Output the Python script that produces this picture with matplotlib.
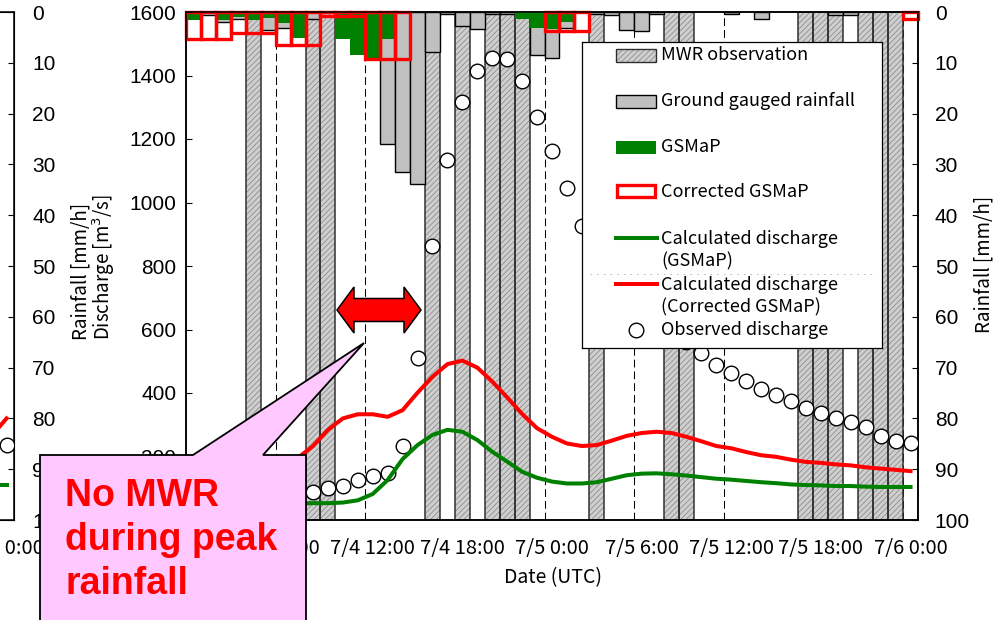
import matplotlib.pyplot as plt
from matplotlib.patches import Polygon, Rectangle
from matplotlib.lines import Line2D

plt.rcParams['font.family'] = ['Liberation Sans', 'DejaVu Sans']
plt.rcParams['hatch.linewidth'] = 0.6
JP = ['Noto Sans CJK JP', 'DejaVu Sans']

# ----------------------------------------------------------
# DATA (hourly, 7/4 0:00 -> 7/6 0:00)
# ----------------------------------------------------------
hours = list(range(49))
tick_hours = [0, 6, 12, 18, 24, 30, 36, 42, 48]
tick_labels = ["7/4 0:00", "7/4 6:00", "7/4 12:00", "7/4 18:00", "7/5 0:00",
               "7/5 6:00", "7/5 12:00", "7/5 18:00", "7/6 0:00"]

# hours with a microwave radiometer overpass
mwr_hours = [4, 8, 9, 16, 18, 20, 21, 22, 27, 32, 33, 41, 42, 43, 45, 46, 47]

# rainfall [mm/h]
ground = [0, 0.6, 2.0, 1.4, 0, 3.5, 3.1, 0, 1.4, 0,
          0, 0, 0, 26.0, 31.5, 33.9, 7.8, 0.3, 2.8, 3.3,
          0.3, 0.3, 0, 8.5, 9.1, 3.2, 0, 0.3, 0.5, 3.5,
          3.8, 0.3, 0, 0, 0, 0, 0.4, 0, 1.4, 0,
          0, 0, 0, 0.5, 0.5, 0, 0, 0, 0]
gsmap = [1.6, 0, 1.6, 0.9, 1.6, 1.1, 2.1, 5.1, 0, 0,
         5.3, 8.5, 9.3, 5.4, 0, 0, 0, 0, 0, 0,
         0, 0, 1.4, 3.1, 3.4, 2.0, 0, 0, 0, 0,
         0, 0, 0, 0, 0, 0, 0, 0, 0, 0,
         0, 0, 0, 0, 0, 0, 0, 0, 0]
gsmap_corr = [5.25, 5.25, 5.25, 4.2, 4.2, 4.2, 6.4, 6.4, 6.4, 0.8,
              0.8, 0.8, 9.2, 9.2, 9.2, 0, 0, 0, 0, 0,
              0, 0, 0, 0, 3.75, 3.75, 3.75, 0, 0, 0,
              0, 0, 0, 0, 0, 0, 0, 0, 0, 0,
              0, 0, 0, 0, 0, 0, 0, 0, 1.4]

# discharge [m3/s]
q_gsmap = [48, 48, 48, 48, 49, 50, 51, 52, 53, 53,
           55, 62, 82, 126, 192, 236, 268, 284, 278, 252,
           215, 184, 152, 133, 121, 115, 115, 119, 130, 141,
           146, 147, 144, 140, 135, 130, 127, 123, 119, 116,
           112, 110, 109, 107, 107, 105, 104, 104, 104]
q_corr = [200, 196, 193, 191, 190, 191, 193, 196, 233, 284,
          320, 333, 333, 325, 346, 401, 451, 491, 502, 480,
          436, 386, 334, 289, 262, 241, 233, 236, 250, 265,
          274, 278, 274, 262, 248, 233, 226, 214, 204, 199,
          190, 183, 180, 175, 172, 166, 162, 158, 154]
q_obs = [82, 82, 82, 82, 83, 84, 85, 87, 89, 100,
         108, 126, 140, 149, 233, 511, 863, 1134, 1315, 1414,
         1454, 1451, 1384, 1270, 1162, 1045, 927, 860, 800, 745,
         695, 645, 600, 560, 525, 489, 464, 438, 413, 394,
         375, 354, 338, 320, 308, 294, 266, 249, 243]

# fragment of the neighbouring panel at the left edge
left_hours = [47, 48]
left_q_corr = [265, 320]
left_q_gsmap = [110, 110]
left_q_obs = [None, 236]

# ----------------------------------------------------------
# FIGURE
# ----------------------------------------------------------
W, H = 999, 620
fig = plt.figure(figsize=(W / 100, H / 100), dpi=100)


def fx(px):
    return px / W


def fy(py):
    return 1 - py / H


ax = fig.add_axes([fx(186), fy(520), fx(918) - fx(186), fy(12) - fy(520)])
axq = ax.twinx()

# dashed separators every 6 hours
for h in hours[6::6]:
    ax.axvline(h - 0.5, color="black", lw=0.75, ls=(0, (7.5, 3.8)), zorder=0.5)

# MWR observation (hatched, full height)
ax.bar(mwr_hours, [100] * len(mwr_hours), width=1, color="#cfcfcf",
       edgecolor="#8e8e8e", hatch="//////", lw=0, zorder=2)
ax.bar(mwr_hours, [100] * len(mwr_hours), width=1, fill=False,
       edgecolor="#303030", lw=1.1, zorder=2.1)

# ground gauged rainfall
g_h = [h for h, v in zip(hours, ground) if v > 0]
g_v = [v for v in ground if v > 0]
ax.bar(g_h, g_v, width=1, color="#c0c0c0", edgecolor="black", lw=1.0, zorder=3)

# GSMaP
s_h = [h for h, v in zip(hours, gsmap) if v > 0]
s_v = [v for v in gsmap if v > 0]
ax.bar(s_h, s_v, width=1, color="#008000", lw=0, zorder=4)

# corrected GSMaP
c_h = [h for h, v in zip(hours, gsmap_corr) if v > 0]
c_v = [v for v in gsmap_corr if v > 0]
ax.bar(c_h, c_v, width=1, fill=False, edgecolor="#ff0000", lw=2.4,
       zorder=5, clip_on=False)

ax.set_ylim(100, 0)
ax.set_xlim(-0.5, 48.5)
ax.yaxis.tick_right()
ax.set_yticks(range(0, 101, 10))
ax.tick_params(axis="y", direction="in", length=4.5, width=0.8, pad=12,
               labelsize=15)
ax.set_xticks(tick_hours)
ax.set_xticklabels(tick_labels, fontfamily=JP, fontsize=14.5)
ax.tick_params(axis="x", length=0, pad=13)
for s in ax.spines.values():
    s.set_linewidth(1.1)

# discharge
axq.plot(hours, q_obs, "o", mfc="white", mec="black", ms=10.5, mew=1.0,
         zorder=3)
axq.plot(hours, q_gsmap, color="#008000", lw=2.9, zorder=4)
axq.plot(hours, q_corr, color="#ff0000", lw=2.9, zorder=4)
axq.set_ylim(0, 1600)
axq.yaxis.tick_left()
axq.set_yticks(range(0, 1601, 200))
axq.tick_params(axis="y", direction="in", length=4.5, width=0.8, pad=7,
                labelsize=15)
for s in axq.spines.values():
    s.set_linewidth(1.1)

# axis titles
fig.text(fx(81), fy(340), "Rainfall [mm/h]", rotation=90, ha="center",
         va="bottom", fontsize=13.5, family=JP)
fig.text(fx(104), fy(340), "Discharge [m$^{3}$/s]", rotation=90, ha="center",
         va="bottom", fontsize=13.5, family=JP)
fig.text(fx(984), fy(333), "Rainfall [mm/h]", rotation=90, ha="center",
         va="bottom", fontsize=13.5, family=JP)
fig.text(fx(553), fy(578), "Date (UTC)", ha="center", va="center",
         fontsize=14, family=JP)

# ----------------------------------------------------------
# neighbouring panel fragment
# ----------------------------------------------------------
axl = fig.add_axes([fx(14 - 732), fy(520), fx(732), fy(12) - fy(520)])
axl.set_xlim(-0.5, 48.5)
axl.set_ylim(100, 0)
axlq = axl.twinx()
axlq.set_ylim(0, 1600)
axlq.set_yticks([])
axlq.plot(left_hours, left_q_corr, color="#ff0000", lw=2.9)
axlq.plot(left_hours, left_q_gsmap, color="#008000", lw=2.9)
axlq.plot(left_hours, left_q_obs, "o", mfc="white", mec="black", ms=10.5,
          mew=1.0)
axl.yaxis.tick_right()
axl.set_yticks(range(0, 101, 10))
axl.tick_params(axis="y", direction="in", length=4.5, width=0.8, pad=13,
                labelsize=15)
axl.set_xticks([48])
axl.set_xticklabels(["7/6 0:00"], fontfamily=JP, fontsize=14.5)
axl.tick_params(axis="x", length=0, pad=13)
for s in axl.spines.values():
    s.set_linewidth(1.1)

# ----------------------------------------------------------
# legend (drawn on its own axes, in figure pixels)
# ----------------------------------------------------------
lax = fig.add_axes([fx(582), fy(348), fx(882) - fx(582), fy(42) - fy(348)],
                   zorder=5)
lax.set_xlim(582, 882)
lax.set_ylim(348, 42)
lax.set_xticks([])
lax.set_yticks([])
for s in lax.spines.values():
    s.set_linewidth(0.9)

lax.add_patch(Rectangle((616, 49), 40, 13, facecolor="#cfcfcf",
                        edgecolor="#8e8e8e", hatch="//////", lw=0))
lax.add_patch(Rectangle((616, 49), 40, 13, fill=False, edgecolor="#303030",
                        lw=1.0))
lax.add_patch(Rectangle((616, 95), 40, 13, facecolor="#c0c0c0",
                        edgecolor="black", lw=1.0))
lax.add_patch(Rectangle((616, 141), 40, 13, facecolor="#008000", lw=0))
lax.add_patch(Rectangle((617, 185), 38, 12, facecolor="white",
                        edgecolor="#ff0000", lw=2.4))
lax.add_line(Line2D([616, 657], [238, 238], color="#008000", lw=2.9))
lax.add_line(Line2D([616, 657], [284, 284], color="#ff0000", lw=2.9))
lax.add_line(Line2D([636], [330], marker="o", mfc="white", mec="black",
                    ms=10.5, mew=1.0))
lax.add_line(Line2D([590, 872], [274, 274], color="#b0b0b0", lw=0.6,
                    ls=(0, (2, 6))))

legend_text = [
    (55, "MWR observation"),
    (101, "Ground gauged rainfall"),
    (147, "GSMaP"),
    (192, "Corrected GSMaP"),
    (250, "Calculated discharge\n(GSMaP)"),
    (296, "Calculated discharge\n(Corrected GSMaP)"),
    (330, "Observed discharge"),
]
for y, t in legend_text:
    lax.text(661, y, t, ha="left", va="center", fontsize=13, family=JP,
             linespacing=1.3)

# ----------------------------------------------------------
# annotations: double arrow and callout
# ----------------------------------------------------------
arrow_px = [(337, 310), (354, 287), (354, 298.5), (404, 298.5), (404, 287),
            (421, 310), (404, 333), (404, 321.5), (354, 321.5), (354, 333)]
fig.add_artist(Polygon([(fx(x), fy(y)) for x, y in arrow_px], closed=True,
                       transform=fig.transFigure, facecolor="#ff0000",
                       edgecolor="black", lw=1.1, zorder=8))

callout_px = [(40, 455), (193, 455), (364, 343), (263, 455), (306, 455),
              (306, 625), (40, 625)]
fig.add_artist(Polygon([(fx(x), fy(y)) for x, y in callout_px], closed=True,
                       transform=fig.transFigure, facecolor="#ffc8ff",
                       edgecolor="black", lw=1.3, zorder=10))
fig.text(fx(65), fy(540), "No MWR\nduring peak\nrainfall", ha="left",
         va="center", color="#ff0000", fontsize=27, fontweight="bold",
         linespacing=1.27, zorder=11)

fig.savefig("out.png", dpi=100)
